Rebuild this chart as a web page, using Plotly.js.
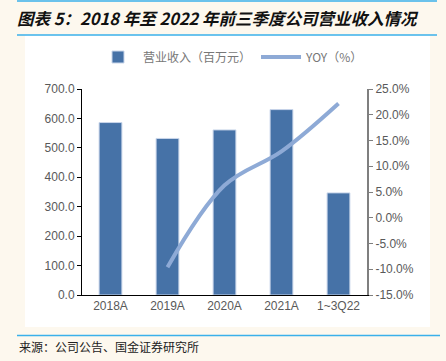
<!DOCTYPE html>
<html><head><meta charset="utf-8">
<script src="https://cdn.plot.ly/plotly-3.0.1.min.js"></script>
<style>html,body{margin:0;padding:0;background:#fdf8ee;}#chart{width:446px;height:361px;}</style>
</head><body><div id="chart"></div>
<script>
const categories = ["2018A", "2019A", "2020A", "2021A", "1~3Q22"];
const revenue = [586, 532, 561, 630, 347];
const yoyCats = ["2019A", "2020A", "2021A", "1~3Q22"];
const yoy = [-9.6, 6.3, 12.9, 22.2];
const leftTicks = [0, 100, 200, 300, 400, 500, 600, 700];
const rightTicks = [-15, -10, -5, 0, 5, 10, 15, 20, 25];
const rightTickText = rightTicks.map(v => v.toFixed(1) + '%');

const L = 82, R = 367, T = 89, B = 295, W = 446, H = 361;
const px = x => (x - L) / (R - L);
const py = y => (B - y) / (B - T);

const cjk = '"Noto Sans CJK SC", "Noto Sans", sans-serif';
const lat = '"Liberation Sans", Arial, sans-serif';

const traces = [
  {type: 'bar', x: categories, y: revenue, name: '营业收入（百万元）',
   marker: {color: '#4672a7', line: {color: '#c9d6ea', width: 1}}, yaxis: 'y'},
  {type: 'scatter', mode: 'lines', x: yoyCats, y: yoy, name: 'YOY（%）',
   line: {color: '#8eaad6', width: 4, shape: 'spline', smoothing: 1}, yaxis: 'y2'}
];

const layout = {
  width: W, height: H,
  paper_bgcolor: '#fdf8ee', plot_bgcolor: 'rgba(0,0,0,0)',
  margin: {l: L, r: W - R, t: T, b: H - B, pad: 0},
  showlegend: true,
  bargap: 0.6,
  title: {text: '<b><i>图表 5：2018 年至 2022 年前三季度公司营业收入情况</i></b>',
          x: 17 / W, xanchor: 'left', y: 1 - 19 / H, yanchor: 'middle',
          font: {family: cjk, size: 16.5, color: '#111'}},
  legend: {orientation: 'h', x: px(93), xanchor: 'left', y: py(57), yanchor: 'middle',
           font: {family: cjk, size: 12, color: '#777'}, bgcolor: 'rgba(0,0,0,0)',
           itemwidth: 40, tracegroupgap: 40},
  xaxis: {type: 'category', showline: true, linecolor: '#000', linewidth: 1,
          ticks: '', showgrid: false, tickfont: {family: lat, size: 12, color: '#595959'},
          zeroline: false},
  yaxis: {range: [0, 700], tickvals: leftTicks, tickformat: '.1f', showgrid: false,
          showline: true, linecolor: '#000', linewidth: 1, ticks: 'outside', ticklen: 4,
          tickcolor: '#000', zeroline: false,
          tickfont: {family: lat, size: 12, color: '#595959'}},
  yaxis2: {range: [-15, 25], tickmode: 'array', tickvals: rightTicks, ticktext: rightTickText,
           overlaying: 'y', side: 'right', showgrid: false, showline: true,
           linecolor: '#7f7f7f', linewidth: 2, ticks: 'outside', ticklen: 4,
           tickcolor: '#7f7f7f', zeroline: false,
           tickfont: {family: lat, size: 12, color: '#595959'}},
  shapes: [
    {type: 'rect', xref: 'paper', yref: 'paper', x0: px(25), x1: px(430), y0: py(327), y1: py(35),
     fillcolor: '#ffffff', line: {width: 0}, layer: 'below'},
    {type: 'line', xref: 'paper', yref: 'paper', x0: px(17), x1: px(437), y0: py(1), y1: py(1),
     line: {color: '#3ab0ea', width: 1.5}},
    {type: 'line', xref: 'paper', yref: 'paper', x0: px(17), x1: px(437), y0: py(35), y1: py(35),
     line: {color: '#3ab0ea', width: 1.5}},
    {type: 'line', xref: 'paper', yref: 'paper', x0: px(17), x1: px(440), y0: py(335.5), y1: py(335.5),
     line: {color: '#3ab0ea', width: 1.5}}
  ],
  annotations: [
    {text: '来源：公司公告、国金证券研究所', xref: 'paper', yref: 'paper', x: px(17), y: py(346),
     xanchor: 'left', yanchor: 'middle', showarrow: false,
     font: {family: cjk, size: 12, color: '#222'}}
  ]
};

Plotly.newPlot('chart', traces, layout, {displayModeBar: false, staticPlot: true});
</script></body></html>
